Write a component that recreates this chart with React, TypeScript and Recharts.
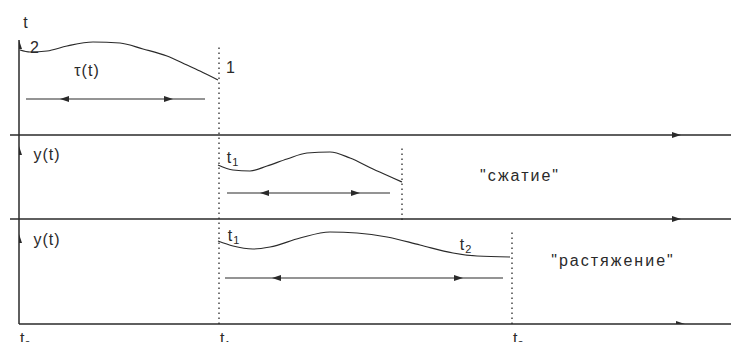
import { ComposedChart, Line, Scatter, XAxis, YAxis, ReferenceLine } from 'recharts'

// time axis: t0 = 0, t1, t2 (units ~ 1px); amplitude measured up from the bottom axis
const timeTicks = [0, 200, 493]
const tickSubs = ['0', '1', '2']

const tauCurve = [
  { x: 1, y: 274 }, { x: 11, y: 272 }, { x: 28, y: 273 }, { x: 48, y: 278 },
  { x: 74, y: 282 }, { x: 101, y: 281 }, { x: 124, y: 275 }, { x: 148, y: 268 },
  { x: 168, y: 259 }, { x: 181, y: 253 }, { x: 199, y: 244 },
]
const compressCurve = [
  { x: 199, y: 159 }, { x: 214, y: 154 }, { x: 231, y: 153 }, { x: 248, y: 158 },
  { x: 268, y: 165 }, { x: 288, y: 171 }, { x: 311, y: 172 }, { x: 331, y: 166 },
  { x: 354, y: 155 }, { x: 374, y: 146 }, { x: 383, y: 142 },
]
const stretchCurve = [
  { x: 199, y: 83 }, { x: 214, y: 78 }, { x: 234, y: 75 }, { x: 251, y: 77 },
  { x: 281, y: 86 }, { x: 311, y: 92 }, { x: 338, y: 91 }, { x: 368, y: 87 },
  { x: 401, y: 79 }, { x: 434, y: 71 }, { x: 458, y: 68 }, { x: 491, y: 67 },
]

const tauSpan = [{ x: 7, y: 225 }, { x: 186, y: 225 }]
const compressSpan = [{ x: 208, y: 131 }, { x: 371, y: 131 }]
const stretchSpan = [{ x: 206, y: 46 }, { x: 484, y: 46 }]

const arrowHeads = [
  { x: 41, y: 225, dir: 'left' }, { x: 154, y: 225, dir: 'right' },
  { x: 241, y: 131, dir: 'left' }, { x: 341, y: 131, dir: 'right' },
  { x: 253, y: 46, dir: 'left' }, { x: 444, y: 46, dir: 'right' },
  { x: 0, y: 284, dir: 'up' }, { x: 0, y: 178, dir: 'up' }, { x: 0, y: 90, dir: 'up' },
  { x: 662, y: 189, dir: 'right' }, { x: 662, y: 105, dir: 'right' }, { x: 666, y: 0, dir: 'right' },
]

const labels = [
  { x: 7, y: 302, text: 't' },
  { x: 16, y: 277, text: '2' },
  { x: 68, y: 254, text: 'τ(t)' },
  { x: 212, y: 257, text: '1' },
  { x: 28, y: 170, text: 'y(t)' },
  { x: 214, y: 167, text: 't', sub: '1' },
  { x: 501, y: 149, text: '"сжатие"' },
  { x: 28, y: 85, text: 'y(t)' },
  { x: 215, y: 89, text: 't', sub: '1' },
  { x: 447, y: 80, text: 't', sub: '2' },
  { x: 594, y: 64, text: '"растяжение"' },
]

const INK = '#2a2a2a'
const FONT = '"Liberation Sans", Arial, sans-serif'

function Head(props: any) {
  const { cx, cy, payload } = props
  if (cx == null || cy == null) return null
  let pts = ''
  if (payload.dir === 'left') pts = `${cx},${cy} ${cx + 9},${cy - 3} ${cx + 9},${cy + 3}`
  else if (payload.dir === 'right') pts = `${cx},${cy} ${cx - 9},${cy - 3} ${cx - 9},${cy + 3}`
  else pts = `${cx},${cy} ${cx - 3},${cy + 9} ${cx + 3},${cy + 9}`
  return <polygon points={pts} fill={INK} />
}

function TextMark(props: any) {
  const { cx, cy, payload } = props
  if (cx == null || cy == null) return null
  return (
    <text x={cx} y={cy} textAnchor="middle" dominantBaseline="central" fontFamily={FONT}
      fontSize={16} letterSpacing={payload.text.length > 4 ? 2 : 1} fill={INK}>
      {payload.text}
      {payload.sub && <tspan fontSize={11} dy={5}>{payload.sub}</tspan>}
    </text>
  )
}

function TimeTick(props: any) {
  const { x, y, index } = props
  return (
    <text x={x + 1} y={y + 12} fontFamily={FONT} fontSize={16} fill={INK}>
      t<tspan fontSize={11} dy={5}>{tickSubs[index]}</tspan>
    </text>
  )
}

export default function App() {
  return (
    <div style={{ position: 'absolute', left: 0, top: 0, background: '#fff' }}>
      <ComposedChart width={731} height={342} margin={{ top: 0, right: 0, bottom: 0, left: 19 }}>
        <XAxis type="number" dataKey="x" domain={[0, 712]} ticks={timeTicks} height={18}
          axisLine={{ stroke: INK, strokeWidth: 1.5 }} tickLine={false} tick={<TimeTick />}
          interval={0} allowDataOverflow />
        <YAxis type="number" dataKey="y" domain={[0, 324]} hide allowDataOverflow />

        {/* vertical axis and panel separators */}
        <ReferenceLine segment={[{ x: 0, y: 0 }, { x: 0, y: 284 }]} stroke={INK} strokeWidth={1.5} ifOverflow="visible" />
        <ReferenceLine segment={[{ x: -9, y: 189 }, { x: 712, y: 189 }]} stroke={INK} strokeWidth={1.5} ifOverflow="visible" />
        <ReferenceLine segment={[{ x: -9, y: 105 }, { x: 712, y: 105 }]} stroke={INK} strokeWidth={1.5} ifOverflow="visible" />

        {/* dotted time markers */}
        <ReferenceLine segment={[{ x: 200, y: 0 }, { x: 200, y: 277 }]} stroke={INK} strokeWidth={1.3} strokeDasharray="1.5 3.5" />
        <ReferenceLine segment={[{ x: 383, y: 104 }, { x: 383, y: 176 }]} stroke={INK} strokeWidth={1.3} strokeDasharray="1.5 3.5" />
        <ReferenceLine segment={[{ x: 493, y: 0 }, { x: 493, y: 92 }]} stroke={INK} strokeWidth={1.3} strokeDasharray="1.5 3.5" />

        <Line data={tauCurve} dataKey="y" type="monotone" stroke={INK} strokeWidth={1.2} dot={false} isAnimationActive={false} />
        <Line data={compressCurve} dataKey="y" type="monotone" stroke={INK} strokeWidth={1.2} dot={false} isAnimationActive={false} />
        <Line data={stretchCurve} dataKey="y" type="monotone" stroke={INK} strokeWidth={1.2} dot={false} isAnimationActive={false} />

        <Line data={tauSpan} dataKey="y" stroke={INK} strokeWidth={1.2} dot={false} isAnimationActive={false} />
        <Line data={compressSpan} dataKey="y" stroke={INK} strokeWidth={1.2} dot={false} isAnimationActive={false} />
        <Line data={stretchSpan} dataKey="y" stroke={INK} strokeWidth={1.2} dot={false} isAnimationActive={false} />

        <Scatter data={arrowHeads} dataKey="y" shape={<Head />} isAnimationActive={false} />
        <Scatter data={labels} dataKey="y" shape={<TextMark />} isAnimationActive={false} />
      </ComposedChart>
    </div>
  )
}
